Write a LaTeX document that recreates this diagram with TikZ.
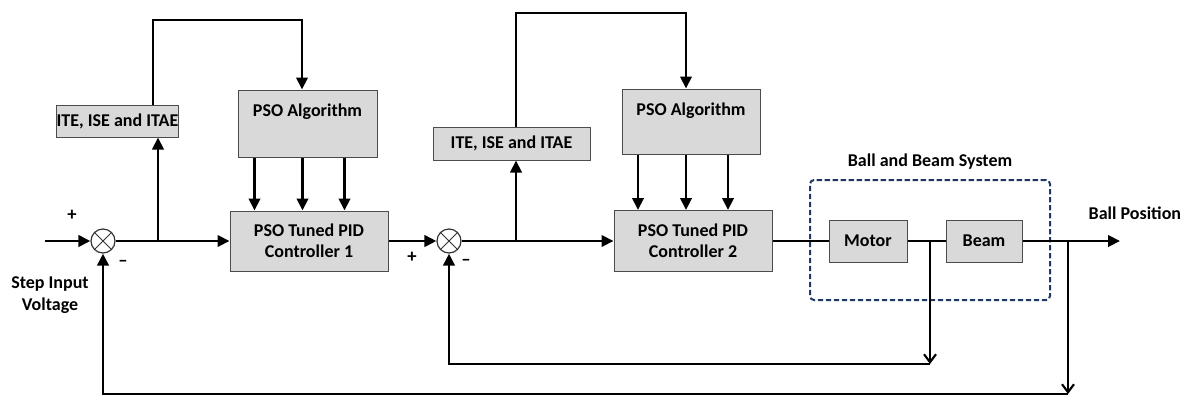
\documentclass[tikz,border=0pt]{standalone}
\usepackage{fontspec}
\setmainfont{Carlito}
\usetikzlibrary{arrows.meta}

\definecolor{boxgray}{HTML}{D9D9D9}
\definecolor{navy}{HTML}{203864}

\tikzset{
  blk/.style={draw=black!70, line width=0.75pt, fill=boxgray, inner sep=0pt,
    align=center, font=\fontsize{13.5}{16}\selectfont\bfseries},
  sumnode/.style={draw=black!80, line width=0.9pt, circle, minimum size=18pt, inner sep=0pt,
    path picture={\draw[line width=0.7pt] (path picture bounding box.south west) -- (path picture bounding box.north east)
      (path picture bounding box.north west) -- (path picture bounding box.south east);}},
  sig/.style={line width=2.2pt, -{Triangle[length=9pt,width=8.5pt]}},
  wire/.style={line width=2.2pt},
  fb/.style={line width=1.6pt, -{Straight Barb[length=6pt,width=9pt]}},
  txt/.style={font=\fontsize{13.5}{16}\selectfont\bfseries, align=center},
  sgn/.style={font=\fontsize{14}{16}\selectfont\bfseries},
}

\begin{document}
\begin{tikzpicture}[x=0.75pt,y=-0.75pt]
  \useasboundingbox (0,0) rectangle (1187,397);

  % summing junctions
  \node[sumnode] (sum1) at (103,241) {};
  \node[sumnode] (sum2) at (449,241) {};

  % first loop
  \node[blk, minimum width=81.75pt, minimum height=24pt] (ite1) at (117.5,121) {ITE, ISE and ITAE};
  \node[blk, minimum width=104.25pt, minimum height=50.25pt,
        label={[txt, anchor=north, yshift=-7pt]north:PSO Algorithm}] (pso1) at (307.5,123.5) {};
  \node[blk, minimum width=118.5pt, minimum height=45pt] (pid1) at (309,241) {PSO Tuned PID\\Controller 1};

  % second loop
  \node[blk, minimum width=117.75pt, minimum height=24.75pt] (ite2) at (511.5,143.5) {ITE, ISE and ITAE};
  \node[blk, minimum width=103.5pt, minimum height=48.75pt,
        label={[txt, anchor=north, yshift=-7pt]north:PSO Algorithm}] (pso2) at (691,121.5) {};
  \node[blk, minimum width=118.5pt, minimum height=45.75pt] (pid2) at (693,241) {PSO Tuned PID\\Controller 2};

  % plant
  \node[blk, minimum width=58.5pt, minimum height=31.5pt] (motor) at (868,241) {Motor};
  \node[blk, minimum width=57pt, minimum height=31.5pt] (beam) at (984,241) {Beam};
  \node[draw=navy, line width=1.5pt, dash pattern=on 4pt off 2pt, rounded corners=3pt,
        minimum width=180pt, minimum height=90pt,
        label={[txt, yshift=4pt]above:Ball and Beam System}] (sys) at (930,240) {};

  % texts
  \node[txt] (inlab) at (50,295) {Step Input\\Voltage};
  \node[txt, anchor=west] (outlab) at (1084,213) {Ball Position};
  \node[sgn] (p1) at (72,215) {+};
  \node[sgn] (m1) at (123,263) {--};
  \node[sgn] (p2) at (412,257) {+};
  \node[sgn] (m2) at (466,262) {--};

  \coordinate (in) at (45,241);
  \coordinate (out) at (1120,241);
  \coordinate (br1) at (158,241);
  \coordinate (br2) at (516,241);
  \coordinate (tk1) at (930,241);
  \coordinate (tk2) at (1068,241);

  % forward path
  \draw[sig] (in) -- (sum1.west);
  \draw[sig] (sum1.east) -- (pid1.west);
  \draw[sig] (pid1.east) -- (sum2.west);
  \draw[sig] (sum2.east) -- (pid2.west);
  \draw[wire] (pid2.east) -- (motor.west);
  \draw[wire] (motor.east) -- (beam.west);
  \draw[sig] (beam.east) -- (out);

  % tuning loops
  \draw[sig] (br1) -- (ite1.south -| br1);
  \draw[sig] (ite1.north -| 153,0) -- (153,20) -| (pso1.north -| 302,0);
  \draw[sig] (br2) -- (ite2.south -| br2);
  \draw[sig] (ite2.north -| br2) -- (516,13) -| (pso2.north -| 686,0);
  \foreach \d in {-53,-5,37} {
    \draw[sig] (pso1.south -| 307.5+\d,0) -- (pid1.north -| 307.5+\d,0);
    \draw[sig] (pso2.south -| 691+\d,0) -- (pid2.north -| 691+\d,0);
  }

  % feedback
  \draw[fb] (tk1) -- (930,364);
  \draw[sig] (930,364) -| (sum2.south);
  \draw[fb] (tk2) -- (1068,394);
  \draw[sig] (1068,394) -| (sum1.south);
\end{tikzpicture}
\end{document}
